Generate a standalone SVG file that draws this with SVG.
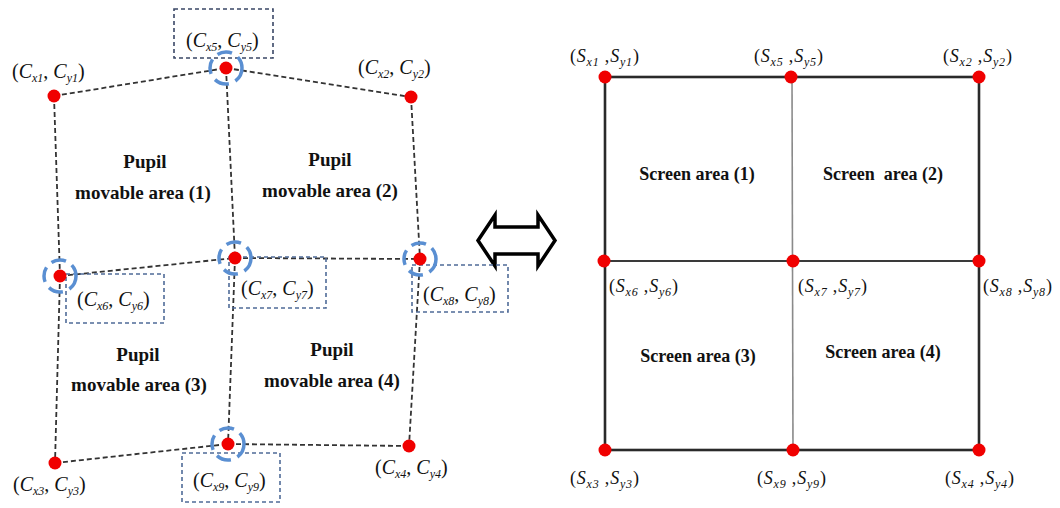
<svg xmlns="http://www.w3.org/2000/svg" width="1060" height="508" viewBox="0 0 1060 508">
<style>
.dash{stroke:#333;stroke-width:1.8;stroke-dasharray:5 3;fill:none}
.box{stroke:#4f6b98;stroke-width:1.6;stroke-dasharray:4 3;fill:none}
.ring{stroke:#5a8fd2;stroke-width:3.5;stroke-dasharray:15 7;fill:none}
.dot{fill:#f00000}
.cl{font-family:"Liberation Serif",serif;font-size:20px;font-style:italic;fill:#111}
.sl{font-family:"Liberation Serif",serif;font-size:18px;font-style:italic;fill:#111;letter-spacing:0.8px}
.sub{font-size:12px}
.pl{font-family:"Liberation Serif",serif;font-size:19px;font-weight:bold;fill:#111;text-anchor:middle}
.sa{font-family:"Liberation Serif",serif;font-size:18px;font-weight:bold;fill:#111;text-anchor:middle}
.up{font-style:normal}
</style>
<rect width="1060" height="508" fill="#fff"/>
<g id="connectors">
<g class="dash">
<line x1="54" y1="96" x2="226" y2="68"/>
<line x1="226" y1="68" x2="411" y2="97"/>
<line x1="54" y1="96" x2="60" y2="276"/>
<line x1="60" y1="276" x2="55" y2="463"/>
<line x1="226" y1="68" x2="235" y2="258"/>
<line x1="235" y1="258" x2="228" y2="444"/>
<line x1="411" y1="97" x2="420" y2="259"/>
<line x1="420" y1="259" x2="409" y2="446"/>
<line x1="60" y1="276" x2="235" y2="258"/>
<line x1="235" y1="258" x2="420" y2="259"/>
<line x1="55" y1="463" x2="228" y2="444"/>
<line x1="228" y1="444" x2="409" y2="446"/>
</g>
<g fill="none">
<rect x="605" y="77" width="374" height="373" stroke="#2a2a2a" stroke-width="2.6"/>
<line x1="605" y1="261" x2="979" y2="261" stroke="#3a3a3a" stroke-width="2"/>
<line x1="792" y1="77" x2="793" y2="450" stroke="#8a8a8a" stroke-width="1.6"/>
</g>
<path d="M478,240.5 L495,215 L495,227 L538,227 L538,215 L555,240.5 L538,266 L538,254 L495,254 L495,266 Z" fill="#fff" stroke="#000" stroke-width="3.5" stroke-linejoin="miter"/>
</g>
<g id="boxes">
<rect class="box" x="174" y="9" width="99" height="49" style="stroke:#3a4766"/>
<rect class="box" x="66" y="274" width="98" height="49"/>
<rect class="box" x="229" y="257" width="97" height="51"/>
<rect class="box" x="412" y="265" width="96" height="47"/>
<rect class="box" x="182" y="453" width="98" height="49"/>
</g>
<g id="node-c1"><circle class="dot" cx="54" cy="96" r="6.5"/><text class="cl" x="12" y="78"><tspan class="up">(</tspan>C<tspan class="sub" dy="4">x1</tspan><tspan dy="-4" class="up">, </tspan>C<tspan class="sub" dy="4">y1</tspan><tspan dy="-4" class="up">)</tspan></text></g>
<g id="node-c5"><circle class="ring" cx="226" cy="68" r="16"/><circle class="dot" cx="226" cy="68" r="6.5"/><text class="cl" x="186" y="47"><tspan class="up">(</tspan>C<tspan class="sub" dy="4">x5</tspan><tspan dy="-4" class="up">, </tspan>C<tspan class="sub" dy="4">y5</tspan><tspan dy="-4" class="up">)</tspan></text></g>
<g id="node-c2"><circle class="dot" cx="411" cy="97" r="6.5"/><text class="cl" x="358" y="74"><tspan class="up">(</tspan>C<tspan class="sub" dy="4">x2</tspan><tspan dy="-4" class="up">, </tspan>C<tspan class="sub" dy="4">y2</tspan><tspan dy="-4" class="up">)</tspan></text></g>
<g id="node-c6"><circle class="ring" cx="60" cy="276" r="16"/><circle class="dot" cx="60" cy="276" r="6.5"/><text class="cl" x="77" y="306"><tspan class="up">(</tspan>C<tspan class="sub" dy="4">x6</tspan><tspan dy="-4" class="up">, </tspan>C<tspan class="sub" dy="4">y6</tspan><tspan dy="-4" class="up">)</tspan></text></g>
<g id="node-c7"><circle class="ring" cx="235" cy="258" r="16"/><circle class="dot" cx="235" cy="258" r="6.5"/><text class="cl" x="241" y="295"><tspan class="up">(</tspan>C<tspan class="sub" dy="4">x7</tspan><tspan dy="-4" class="up">, </tspan>C<tspan class="sub" dy="4">y7</tspan><tspan dy="-4" class="up">)</tspan></text></g>
<g id="node-c8"><circle class="ring" cx="420" cy="259" r="16"/><circle class="dot" cx="420" cy="259" r="6.5"/><text class="cl" x="423" y="301"><tspan class="up">(</tspan>C<tspan class="sub" dy="4">x8</tspan><tspan dy="-4" class="up">, </tspan>C<tspan class="sub" dy="4">y8</tspan><tspan dy="-4" class="up">)</tspan></text></g>
<g id="node-c3"><circle class="dot" cx="55" cy="463" r="6.5"/><text class="cl" x="13" y="491"><tspan class="up">(</tspan>C<tspan class="sub" dy="4">x3</tspan><tspan dy="-4" class="up">, </tspan>C<tspan class="sub" dy="4">y3</tspan><tspan dy="-4" class="up">)</tspan></text></g>
<g id="node-c9"><circle class="ring" cx="228" cy="444" r="16"/><circle class="dot" cx="228" cy="444" r="6.5"/><text class="cl" x="193" y="487"><tspan class="up">(</tspan>C<tspan class="sub" dy="4">x9</tspan><tspan dy="-4" class="up">, </tspan>C<tspan class="sub" dy="4">y9</tspan><tspan dy="-4" class="up">)</tspan></text></g>
<g id="node-c4"><circle class="dot" cx="409" cy="446" r="6.5"/><text class="cl" x="375" y="474"><tspan class="up">(</tspan>C<tspan class="sub" dy="4">x4</tspan><tspan dy="-4" class="up">, </tspan>C<tspan class="sub" dy="4">y4</tspan><tspan dy="-4" class="up">)</tspan></text></g>
<g id="area-p1"><text class="pl" x="145" y="168">Pupil</text><text class="pl" x="143" y="199">movable area (1)</text></g>
<g id="area-p2"><text class="pl" x="330" y="166">Pupil</text><text class="pl" x="330" y="197">movable area (2)</text></g>
<g id="area-p3"><text class="pl" x="138" y="361">Pupil</text><text class="pl" x="139" y="391">movable area (3)</text></g>
<g id="area-p4"><text class="pl" x="332" y="356">Pupil</text><text class="pl" x="332" y="387">movable area (4)</text></g>
<g id="node-s1"><circle class="dot" cx="605" cy="77" r="6.5"/><text class="sl" x="570" y="62"><tspan class="up">(</tspan>S<tspan class="sub" dy="4">x1</tspan><tspan dy="-4" class="up"> ,</tspan>S<tspan class="sub" dy="4">y1</tspan><tspan dy="-4" class="up">)</tspan></text></g>
<g id="node-s5"><circle class="dot" cx="791" cy="77" r="6.5"/><text class="sl" x="754" y="62"><tspan class="up">(</tspan>S<tspan class="sub" dy="4">x5</tspan><tspan dy="-4" class="up"> ,</tspan>S<tspan class="sub" dy="4">y5</tspan><tspan dy="-4" class="up">)</tspan></text></g>
<g id="node-s2"><circle class="dot" cx="979" cy="77" r="6.5"/><text class="sl" x="943" y="62"><tspan class="up">(</tspan>S<tspan class="sub" dy="4">x2</tspan><tspan dy="-4" class="up"> ,</tspan>S<tspan class="sub" dy="4">y2</tspan><tspan dy="-4" class="up">)</tspan></text></g>
<g id="node-s6"><circle class="dot" cx="604" cy="261" r="6.5"/><text class="sl" x="609" y="292"><tspan class="up">(</tspan>S<tspan class="sub" dy="4">x6</tspan><tspan dy="-4" class="up"> ,</tspan>S<tspan class="sub" dy="4">y6</tspan><tspan dy="-4" class="up">)</tspan></text></g>
<g id="node-s7"><circle class="dot" cx="793" cy="261" r="6.5"/><text class="sl" x="798" y="292"><tspan class="up">(</tspan>S<tspan class="sub" dy="4">x7</tspan><tspan dy="-4" class="up"> ,</tspan>S<tspan class="sub" dy="4">y7</tspan><tspan dy="-4" class="up">)</tspan></text></g>
<g id="node-s8"><circle class="dot" cx="979" cy="261" r="6.5"/><text class="sl" x="983" y="292"><tspan class="up">(</tspan>S<tspan class="sub" dy="4">x8</tspan><tspan dy="-4" class="up"> ,</tspan>S<tspan class="sub" dy="4">y8</tspan><tspan dy="-4" class="up">)</tspan></text></g>
<g id="node-s3"><circle class="dot" cx="605" cy="450" r="6.5"/><text class="sl" x="570" y="484"><tspan class="up">(</tspan>S<tspan class="sub" dy="4">x3</tspan><tspan dy="-4" class="up"> ,</tspan>S<tspan class="sub" dy="4">y3</tspan><tspan dy="-4" class="up">)</tspan></text></g>
<g id="node-s9"><circle class="dot" cx="793" cy="450" r="6.5"/><text class="sl" x="757" y="484"><tspan class="up">(</tspan>S<tspan class="sub" dy="4">x9</tspan><tspan dy="-4" class="up"> ,</tspan>S<tspan class="sub" dy="4">y9</tspan><tspan dy="-4" class="up">)</tspan></text></g>
<g id="node-s4"><circle class="dot" cx="979" cy="450" r="6.5"/><text class="sl" x="945" y="484"><tspan class="up">(</tspan>S<tspan class="sub" dy="4">x4</tspan><tspan dy="-4" class="up"> ,</tspan>S<tspan class="sub" dy="4">y4</tspan><tspan dy="-4" class="up">)</tspan></text></g>
<g id="area-s1"><text class="sa" x="697" y="180">Screen area (1)</text></g>
<g id="area-s2"><text class="sa" x="883" y="180" xml:space="preserve">Screen  area (2)</text></g>
<g id="area-s3"><text class="sa" x="698" y="362">Screen area (3)</text></g>
<g id="area-s4"><text class="sa" x="883" y="358">Screen area (4)</text></g>
</svg>
